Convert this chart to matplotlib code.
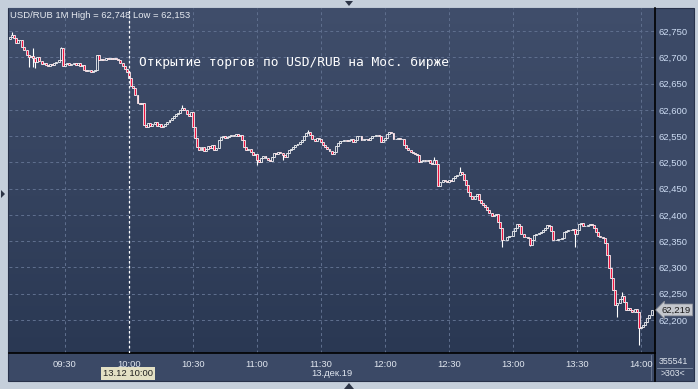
import numpy as np
import matplotlib
matplotlib.use("Agg")
import matplotlib.pyplot as plt
from matplotlib.colors import LinearSegmentedColormap
from matplotlib.patches import Rectangle, Polygon
from matplotlib.lines import Line2D

# 1-minute USD/RUB closes, 13.12.19, first candle at 09:04
FIRST_MINUTE = 4          # minutes after 09:00
FIRST_OPEN = 62.735
CLOSES = [
    62.739, 62.742, 62.737, 62.727, 62.733, 62.733, 62.720, 62.714, 62.704, 62.701, 62.702,
    62.699, 62.691, 62.701, 62.693, 62.687, 62.689, 62.685, 62.683, 62.687, 62.685,
    62.689, 62.691, 62.695, 62.718, 62.683, 62.687, 62.689, 62.685, 62.687, 62.689,
    62.685, 62.689, 62.683, 62.685, 62.676, 62.674, 62.676, 62.672, 62.674, 62.676,
    62.704, 62.695, 62.697, 62.695, 62.699, 62.697, 62.699, 62.697, 62.699, 62.697,
    62.695, 62.689, 62.683, 62.678, 62.672, 62.661, 62.645, 62.642, 62.628, 62.613,
    62.611, 62.613, 62.571, 62.567, 62.575, 62.569, 62.573, 62.577, 62.569, 62.573,
    62.567, 62.569, 62.573, 62.577, 62.581, 62.584, 62.588, 62.592, 62.594, 62.600,
    62.603, 62.600, 62.592, 62.588, 62.596, 62.567, 62.546, 62.529, 62.524, 62.529,
    62.522, 62.525, 62.531, 62.527, 62.533, 62.524, 62.527, 62.543, 62.548, 62.550,
    62.546, 62.548, 62.550, 62.552, 62.550, 62.554, 62.550, 62.552, 62.543, 62.529,
    62.524, 62.525, 62.520, 62.514, 62.516, 62.505, 62.501, 62.508, 62.512, 62.508,
    62.505, 62.503, 62.510, 62.518, 62.516, 62.520, 62.518, 62.514, 62.510, 62.518,
    62.524, 62.525, 62.529, 62.533, 62.535, 62.539, 62.543, 62.550, 62.556, 62.558,
    62.552, 62.544, 62.541, 62.546, 62.544, 62.539, 62.533, 62.529, 62.525, 62.522,
    62.516, 62.520, 62.531, 62.537, 62.541, 62.541, 62.543, 62.541, 62.543, 62.544,
    62.539, 62.543, 62.550, 62.550, 62.543, 62.544, 62.544, 62.543, 62.546, 62.550,
    62.550, 62.552, 62.550, 62.539, 62.543, 62.546, 62.554, 62.558, 62.556, 62.544,
    62.544, 62.546, 62.544, 62.544, 62.533, 62.527, 62.524, 62.520, 62.518, 62.516,
    62.514, 62.501, 62.503, 62.505, 62.503, 62.505, 62.499, 62.497, 62.505, 62.497,
    62.455, 62.463, 62.466, 62.465, 62.463, 62.466, 62.465, 62.470, 62.474, 62.476,
    62.482, 62.478, 62.466, 62.457, 62.444, 62.436, 62.430, 62.436, 62.440, 62.428,
    62.423, 62.419, 62.415, 62.409, 62.404, 62.398, 62.400, 62.402, 62.387, 62.375,
    62.352, 62.352, 62.358, 62.360, 62.360, 62.369, 62.375, 62.383, 62.379, 62.364,
    62.358, 62.358, 62.356, 62.343, 62.352, 62.362, 62.364, 62.366, 62.368, 62.371,
    62.375, 62.381, 62.379, 62.369, 62.352, 62.352, 62.354, 62.354, 62.356, 62.368,
    62.369, 62.371, 62.371, 62.373, 62.364, 62.371, 62.383, 62.385, 62.379, 62.379,
    62.381, 62.383, 62.381, 62.375, 62.368, 62.360, 62.358, 62.356, 62.347, 62.324,
    62.299, 62.280, 62.257, 62.229, 62.232, 62.240, 62.246, 62.234, 62.219, 62.223,
    62.219, 62.215, 62.221, 62.215, 62.185, 62.187, 62.191, 62.196, 62.204, 62.210, 62.219,
]
# visible wick extremes (candle index -> price)
HIGH_WICKS = {1: 62.748, 11: 62.718, 24: 62.720, 81: 62.609, 140: 62.562,
              199: 62.510, 211: 62.491, 287: 62.253}
LOW_WICKS = {9: 62.682, 11: 62.681, 12: 62.680, 116: 62.495, 128: 62.505,
             231: 62.339, 244: 62.341, 265: 62.339, 285: 62.206, 295: 62.153}

TIME_LABELS = ["09:30", "10:00", "10:30", "11:00", "11:30", "12:00",
               "12:30", "13:00", "13:30", "14:00"]
PRICE_TICKS = [62.20, 62.25, 62.30, 62.35, 62.40, 62.45, 62.50, 62.55, 62.60, 62.65, 62.70, 62.75]
OPEN_MARK = "10:00"
NOTE = "Открытие торгов по USD/RUB на Мос. бирже"
HEADER = "USD/RUB 1M High = 62,748 Low = 62,153"
DATE_TEXT = "13.дек.19"
CURSOR_TEXT = "13.12 10:00"
VOLUME_TEXT = "355541"
COUNT_TEXT = ">303<"

W, H = 698, 389


def fx(px):
    return px / W


def fy(py):
    return 1 - py / H


def minutes(label):
    h, m = label.split(":")
    return (int(h) - 9) * 60 + int(m)


closes = np.array(CLOSES)
opens = np.concatenate([[FIRST_OPEN], closes[:-1]])
highs = np.maximum(opens, closes)
lows = np.minimum(opens, closes)
for i, v in HIGH_WICKS.items():
    highs[i] = v
for i, v in LOW_WICKS.items():
    lows[i] = v
xs = FIRST_MINUTE + np.arange(len(closes))

plt.rcParams["font.family"] = ["Liberation Sans", "DejaVu Sans"]

fig = plt.figure(figsize=(W / 100, H / 100), dpi=100, facecolor="#c5cfdb")
fig.patches.append(Rectangle((fx(8), fy(381)), fx(686), 373 / H, transform=fig.transFigure,
                             fc="#3b4966", ec="#27314a", lw=0.8, zorder=0))

bg = LinearSegmentedColormap.from_list("bg", ["#404e6b", "#2a3853"])
grad = np.linspace(0, 1, 256).reshape(-1, 1)

# right price panel
axr = fig.add_axes([fx(655), fy(353), fx(39), 345 / H])
axr.imshow(grad, cmap=bg, aspect="auto", extent=[0, 1, 0, 1])
axr.set_axis_off()

ax = fig.add_axes([fx(9), fy(353), fx(646), 345 / H])
ax.set_zorder(3)
xlim = (3.75, 306.6)
ylim = (62.137, 62.794)
ax.imshow(grad, cmap=bg, aspect="auto", extent=[xlim[0], xlim[1], ylim[0], ylim[1]], zorder=0)
ax.set_xlim(*xlim)
ax.set_ylim(*ylim)

ax.grid(True, color="#60708f", ls=(0, (3, 3)), lw=0.7)
ax.set_axisbelow(True)

up = closes >= opens
ax.vlines(xs, lows, highs, color="white", lw=0.8, zorder=3)
ax.bar(xs[up], closes[up] - opens[up], bottom=opens[up], width=0.92,
       color="#34425f", edgecolor="white", lw=0.55, zorder=4)
ax.bar(xs[~up], closes[~up] - opens[~up], bottom=opens[~up], width=0.92,
       color="#ee1440", edgecolor="white", lw=0.55, zorder=4)

ax.axvline(minutes(OPEN_MARK), color="white", ls=(0, (2, 2)), lw=0.9, zorder=5)
ax.text(64.5, 62.691, NOTE, family="DejaVu Sans Mono", fontsize=9.25, color="white",
        va="center", ha="left", zorder=6)

ax.set_xticks([minutes(t) for t in TIME_LABELS])
ax.set_xticklabels(TIME_LABELS)
ax.yaxis.tick_right()
ax.set_yticks(PRICE_TICKS)
ax.set_yticklabels([f"{p:.3f}".replace(".", ",") for p in PRICE_TICKS])
ax.tick_params(axis="x", length=0, pad=5, labelsize=6.8, labelcolor="#dfe5ee")
ax.tick_params(axis="y", length=0, pad=2.5, labelsize=6.8, labelcolor="#cddcf3")
for side in ("left", "top"):
    ax.spines[side].set_visible(False)
for side in ("bottom", "right"):
    ax.spines[side].set_color("black")
    ax.spines[side].set_linewidth(1.2)

last = closes[-1]
ax.annotate(f"{last:.3f}".replace(".", ","), xy=(1, last), xycoords=("axes fraction", "data"),
            xytext=(5, 0), textcoords="offset points", fontsize=6.8, color="#1a1a1a",
            va="center", ha="left", annotation_clip=False, zorder=8,
            bbox=dict(boxstyle="larrow,pad=0.15", fc="#c4c7cd", ec="#8c9099", lw=0.5))

# header and bottom strip texts
fig.text(fx(10), fy(15), HEADER, fontsize=6.8, color="#e6eaf0", va="center", ha="left")
fig.text(fx(332), fy(373), DATE_TEXT, fontsize=6.8, color="#dfe5ee", va="center", ha="center")
fig.text(fx(128), fy(373.5), CURSOR_TEXT, fontsize=6.8, color="#202020", va="center", ha="center",
         bbox=dict(boxstyle="square,pad=0.2", fc="#e3e0c4", ec="none"))
fig.text(fx(673), fy(361), VOLUME_TEXT, fontsize=6.3, color="#dfe5ee", va="center", ha="center")
fig.text(fx(673), fy(374), COUNT_TEXT, fontsize=6.3, color="#dfe5ee", va="center", ha="center")
fig.add_artist(Line2D([fx(655), fx(655)], [fy(353), fy(381)], color="black", lw=1.2))
fig.add_artist(Line2D([fx(657), fx(692)], [fy(367.5), fy(367.5)], color="#8592a8", lw=0.6))
fig.add_artist(Line2D([fx(651), fx(651)], [fy(355), fy(380)], color="#6d7b95", lw=0.6))

# small scroll arrows on the frame
arrow = "#2c3446"
fig.add_artist(Polygon([(fx(345), fy(1)), (fx(353), fy(1)), (fx(349), fy(6))], closed=True,
                       transform=fig.transFigure, fc=arrow, ec="none"))
fig.add_artist(Polygon([(fx(344), fy(389)), (fx(354), fy(389)), (fx(349), fy(383))], closed=True,
                       transform=fig.transFigure, fc=arrow, ec="none"))
fig.add_artist(Polygon([(fx(1), fy(190)), (fx(1), fy(198)), (fx(5), fy(194))], closed=True,
                       transform=fig.transFigure, fc=arrow, ec="none"))

fig.savefig("out.png", dpi=100, facecolor=fig.get_facecolor())
